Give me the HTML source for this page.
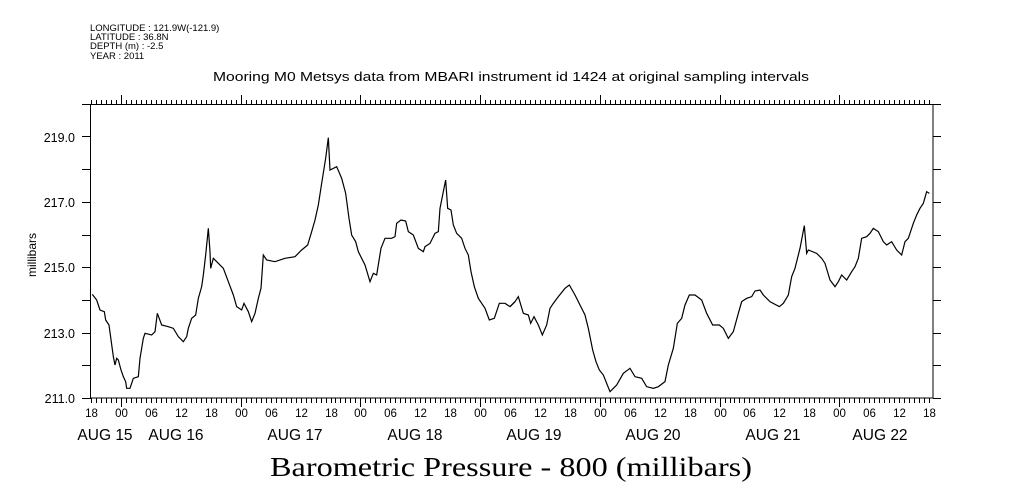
<!DOCTYPE html>
<html><head><meta charset="utf-8"><style>
html,body{margin:0;padding:0;background:#fff;}
svg{display:block;font-family:"Liberation Sans",sans-serif;}
</style></head><body>
<svg id="s" width="1009" height="504" viewBox="0 0 1009 504" xmlns="http://www.w3.org/2000/svg">
<rect width="1009" height="504" fill="#fff"/>
<g font-size="9.5" fill="#000">
<text x="90" y="31">LONGITUDE : 121.9W(-121.9)</text>
<text x="90" y="40">LATITUDE : 36.8N</text>
<text x="90" y="49">DEPTH (m) : -2.5</text>
<text x="90" y="59">YEAR : 2011</text>
</g>
<text x="511" y="81" font-size="13" text-anchor="middle" textLength="596" lengthAdjust="spacingAndGlyphs">Mooring M0 Metsys data from MBARI instrument id 1424 at original sampling intervals</text>
<rect x="90.5" y="104.5" width="842.5" height="293.5" fill="none" stroke="#000" stroke-width="1"/>
<g id="ticks" stroke="#000" stroke-width="1"></g>
<g font-size="12.5" text-anchor="end">
<text x="75" y="142">219.0</text>
<text x="75" y="207">217.0</text>
<text x="75" y="272">215.0</text>
<text x="75" y="338">213.0</text>
<text x="75" y="403">211.0</text>
</g>
<text transform="translate(36,255) rotate(-90)" font-size="12" text-anchor="middle">millibars</text>
<g id="xl" font-size="11.5" text-anchor="middle"></g>
<g font-size="15.5" text-anchor="middle">
<text x="105" y="440">AUG 15</text><text x="176" y="440">AUG 16</text><text x="295" y="440">AUG 17</text>
<text x="415" y="440">AUG 18</text><text x="534" y="440">AUG 19</text><text x="653" y="440">AUG 20</text>
<text x="773" y="440">AUG 21</text><text x="880" y="440">AUG 22</text>
</g>
<text x="511" y="476" font-size="27" text-anchor="middle" font-family="Liberation Serif,serif" textLength="482" lengthAdjust="spacingAndGlyphs">Barometric Pressure - 800 (millibars)</text>
<g fill="none" stroke="#000" stroke-width="1.2">
<polyline transform="translate(85,95) scale(0.33333)" vector-effect="non-scaling-stroke" points="22,598 35,615 45,645 58,650 62,675 72,690 85,785 90,810 95,790 100,795 108,825 115,845 122,860 125,880 135,880 145,850 160,845 165,790 175,730 180,715 200,720 210,710 217,655 230,690 250,695 265,700 280,725 295,740 305,725 310,700 320,670 332,660 340,610 350,575 355,540 362,480 370,400 375,470 377,520 385,490 400,505 415,520 430,560 445,600 455,635 470,645 477,625 490,650 500,680 510,655 520,610 528,580 535,480 545,495 570,500 600,490 630,485 650,465 668,450 680,410 690,375 700,330 710,265 722,190 730,128 735,225 755,215 770,250 782,295 792,370 800,420 812,440 820,470 840,510 855,560 865,535 875,540 888,460 900,430 920,430 930,425 935,385 948,375 962,378 970,410 985,420 1000,460 1015,470 1020,455 1035,445 1050,415 1060,410 1065,340 1075,290 1082,255 1088,340 1098,345 1105,390 1115,415 1130,430 1140,460 1150,480 1158,530 1168,575 1180,610 1190,625 1200,640 1213,675 1228,670 1243,625 1260,625 1275,635 1290,620"/>
<polyline transform="translate(510,95) scale(0.33333)" vector-effect="non-scaling-stroke" points="0,635 15,620 25,605 40,655 55,660 62,685 72,665 85,690 97,720 110,690 120,640 130,625 145,605 165,580 178,570 195,600 210,630 225,660 235,700 248,765 258,800 268,825 280,840 300,890 320,870 340,835 360,820 375,845 395,850 410,875 430,880 445,875 465,860 475,810 490,760 502,685 515,670 525,630 538,600 555,600 575,615 590,655 608,690 628,690 640,700 655,730 670,710 685,655 695,620 710,610 725,605 735,588 750,585 760,600 780,620 808,635 820,625 835,600 845,545 855,520 870,460 883,392 890,475 895,465 920,475 935,490 945,505 960,555 975,575 985,560 995,540 1010,555 1025,530 1035,515 1045,490 1055,430 1070,425 1080,415 1090,400 1105,410 1120,440 1130,450 1145,440 1160,465 1175,480 1185,440 1195,430 1210,385 1220,360 1230,340 1240,325 1250,290 1258,295"/>
</g>
</svg>
<script>
var NS="http://www.w3.org/2000/svg",t=document.getElementById("ticks"),xl=document.getElementById("xl");
function L(x1,y1,x2,y2){var l=document.createElementNS(NS,"line");l.setAttribute("x1",x1);l.setAttribute("y1",y1);l.setAttribute("x2",x2);l.setAttribute("y2",y2);t.appendChild(l);}
var x0=91.1,dh=119.7/24;
for(var h=0;h<=168;h++){var x=Math.round(x0+h*dh)+0.5;if(x>933)break;var hr=(18+h)%24;var big=(hr==0);
L(x,104,x,big?95:100);L(x,398,x,big?407:403);
if(h%6==0){var tx=document.createElementNS(NS,"text");tx.setAttribute("x",x);tx.setAttribute("y",417);tx.textContent=(hr<10?"0":"")+hr;xl.appendChild(tx);}}
for(var v=211;v<=220;v++){var y=Math.round(398-(v-211)*32.7)+0.5;L(82,y,91,y);L(933,y,941,y);}
</script>
</body></html>
